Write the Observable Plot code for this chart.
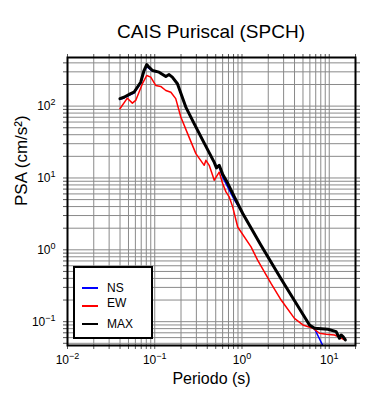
<!DOCTYPE html>
<html><head><meta charset="utf-8">
<script src="https://cdn.jsdelivr.net/npm/d3@7"></script>
<script src="https://cdn.jsdelivr.net/npm/@observablehq/plot@0.6"></script>
<style>
body{margin:0;background:#fff;font-family:"Liberation Sans",Arial,Helvetica,sans-serif;}
#wrap{position:relative;width:390px;height:400px;overflow:hidden;}
#title{height:45px;box-sizing:border-box;padding-top:22px;margin-left:67px;width:288px;text-align:center;font-size:19px;line-height:19px;color:#000;white-space:nowrap;}
#legend{position:absolute;left:73px;top:266px;width:80px;height:73px;box-sizing:border-box;border:2px solid #000;background:#fff;}
.sw{position:absolute;left:7px;width:16px;height:2px;}
.lb{position:absolute;left:32px;font-size:12px;line-height:12px;color:#000;}
svg{display:block;}
</style></head>
<body>
<div id="wrap">
  <div id="title">CAIS Puriscal (SPCH)</div>
  <div id="chart"></div>
  <div id="legend"></div>
</div>
<script>
// ---- data (period in s, PSA in cm/s^2) ----
const periodNS = [0.0399,0.0444,0.053,0.0578,0.069,0.0753,0.0809,0.0859,0.0942,0.112,0.134,0.146,0.159,0.182,0.227,0.283,0.369,0.481,0.51,0.548,0.600,0.685,0.815,1.02,1.65,2.81,5.94,6.78,8.47,9.48];
const psaNS    = [124,130,145,152,207,303,356,334,308,297,258,275,253,205,97,57,30.5,16.5,13.8,14.3,10.3,7.5,5.0,3.2,1.16,0.392,0.090,0.080,0.046,0.035];

const periodEW = [0.0399,0.0485,0.0554,0.0605,0.0722,0.0809,0.09,0.1026,0.117,0.134,0.153,0.174,0.199,0.238,0.296,0.369,0.386,0.421,0.481,0.548,0.600,0.655,0.714,0.782,0.893,1.27,1.51,2.15,2.81,3.99,4.99,6.50,7.74,9.24,11.5,12.6,15.0];
const psaEW    = [92,129,110,120,205,267,253,194,188,165,156,127,70.4,41.4,21.8,15.0,17.6,15.0,9.3,12.1,8.4,6.4,5.45,3.96,2.08,1.10,0.72,0.341,0.200,0.111,0.090,0.081,0.069,0.0668,0.0653,0.062,0.0557];

const periodMAX = [0.0399,0.0444,0.053,0.0578,0.069,0.0753,0.0809,0.0859,0.0942,0.112,0.134,0.146,0.159,0.182,0.227,0.283,0.369,0.481,0.51,0.548,0.600,0.685,0.815,1.02,1.65,2.81,5.94,6.78,9.66,12.0,13.1,13.7,14.4,15.3];
const psaMAX    = [127,133,149,156,215,313,379,348,313,297,258,275,253,205,97,57,30.5,16.5,13.8,15.0,11.3,8.5,5.5,3.2,1.16,0.392,0.090,0.081,0.0784,0.0726,0.0588,0.0653,0.062,0.0557];

const seriesNames  = ["NS","EW","MAX"];
const seriesColors = ["#0000ff","#ff0000","#000000"];
const xDomain = [0.01, 20];
const yDomain = [0.0466, 475];
const titleText = "CAIS Puriscal (SPCH)";
const xLabel = "Periodo (s)";
const yLabel = "PSA (cm/s²)";

// ---- build ----
const zip = (T, V) => T.map((t, i) => ({T: t, V: V[i]}));
const ns = zip(periodNS, psaNS), ew = zip(periodEW, psaEW), mx = zip(periodMAX, psaMAX);
const isPow10 = d => Math.abs(Math.log10(d) - Math.round(Math.log10(d))) < 1e-9;
const xTicks = d3.scaleLog().domain(xDomain).ticks();
const yTicks = d3.scaleLog().domain(yDomain).ticks();
const fmt = d => isPow10(d) ? "10^" + Math.round(Math.log10(d)) : "";
const blank = () => "";

const plot = Plot.plot({
  width: 390, height: 355,
  marginLeft: 67, marginRight: 35, marginTop: 12, marginBottom: 55,
  style: {fontFamily: '"Liberation Sans", Arial, Helvetica, sans-serif', fontSize: "12px", background: "#fff", overflow: "visible", color: "#000"},
  x: {type: "log", domain: xDomain, label: null},
  y: {type: "log", domain: yDomain, label: null},
  marks: [
    Plot.ruleX(xTicks, {stroke: "#8a8a8a", strokeWidth: 1}),
    Plot.ruleY(yTicks, {stroke: "#8a8a8a", strokeWidth: 1}),
    Plot.axisX(xTicks, {anchor: "bottom", tickSize: 4, tickPadding: 6, tickFormat: fmt, label: null, stroke: "#555", fill: "#000", fontSize: 12}),
    Plot.axisX(xTicks, {anchor: "top", tickSize: 4, tickFormat: blank, label: null, stroke: "#555"}),
    Plot.axisY(yTicks, {anchor: "left", tickSize: 4, tickPadding: 8, tickFormat: fmt, label: null, stroke: "#555", fill: "#000", fontSize: 12}),
    Plot.axisY(yTicks, {anchor: "right", tickSize: 4, tickFormat: blank, label: null, stroke: "#555"}),
    Plot.line(ns, {x: "T", y: "V", stroke: seriesColors[0], strokeWidth: 1.5, clip: true}),
    Plot.line(ew, {x: "T", y: "V", stroke: seriesColors[1], strokeWidth: 1.5, clip: true}),
    Plot.line(mx, {x: "T", y: "V", stroke: seriesColors[2], strokeWidth: 3, strokeLinejoin: "round", clip: true}),
    Plot.frame({stroke: "#000", strokeWidth: 2}),
    Plot.text([xLabel], {frameAnchor: "bottom", dy: 38, lineAnchor: "bottom", fontSize: 16, fill: "#000"}),
    Plot.text([yLabel], {frameAnchor: "left", rotate: -90, dx: -41, dy: 4.5, lineAnchor: "bottom", fontSize: 17, fill: "#000"})
  ]
});

// superscript exponents on tick labels
plot.querySelectorAll("text").forEach(t => {
  const m = /^10\^(-?\d+)$/.exec(t.textContent);
  if (!m) return;
  t.textContent = "10";
  const sp = document.createElementNS("http://www.w3.org/2000/svg", "tspan");
  sp.setAttribute("dy", "-5");
  sp.setAttribute("font-size", "9");
  sp.textContent = m[1].replace("-", "\u2212");
  t.appendChild(sp);
});
document.getElementById("chart").appendChild(plot);
document.getElementById("title").textContent = titleText;

// legend
const legend = document.getElementById("legend");
const swTop = [19, 37, 55];
const lbTop = [14, 29, 50];
seriesNames.forEach((name, i) => {
  const sw = document.createElement("div");
  sw.className = "sw"; sw.style.top = swTop[i] + "px"; sw.style.background = seriesColors[i];
  const lb = document.createElement("div");
  lb.className = "lb"; lb.style.top = lbTop[i] + "px"; lb.textContent = name;
  legend.appendChild(sw); legend.appendChild(lb);
});
</script>
</body></html>
